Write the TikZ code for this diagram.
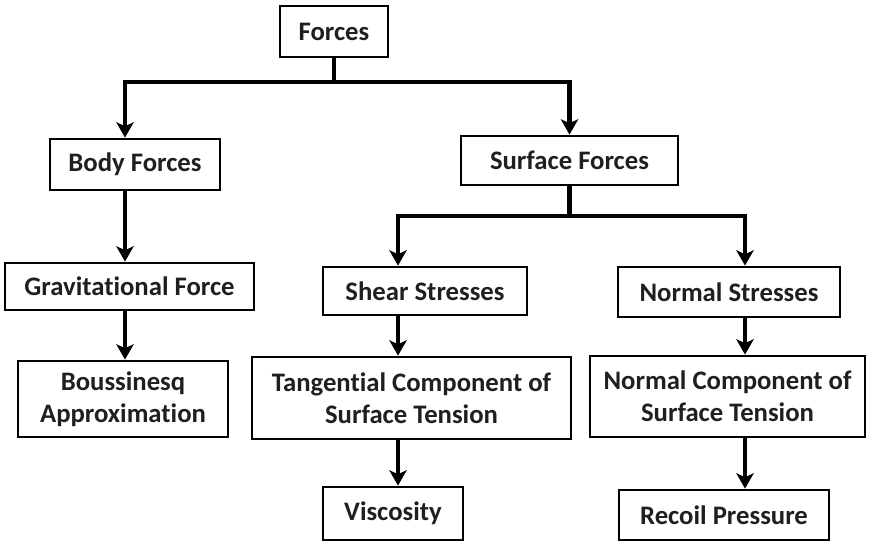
\documentclass[tikz,border=0pt]{standalone}
\usepackage{fontspec}
\setmainfont{Carlito}[Ligatures=NoCommon]
\usetikzlibrary{arrows.meta, calc, positioning}

\begin{document}
\begin{tikzpicture}[
    font=\fontsize{22.8}{27.5}\selectfont\bfseries,
    block/.style={
        draw=black, line width=2.4pt, fill=white,
        align=center, inner sep=2pt, text=black!88
    },
    link/.style={
        line width=3.6pt, black
    },
    arrow/.style={
        -{Stealth[length=4.6mm, width=5.2mm, inset=1.2mm]}, line width=3.6pt, black
    }
]
\useasboundingbox (0,0) rectangle (26.07,-16.41);

% columns of the connectors
\coordinate (colA) at (3.75,0);
\coordinate (colB) at (11.94,0);
\coordinate (colC) at (22.35,0);
\coordinate (split1) at (0,-2.46);
\coordinate (split2) at (0,-6.48);

\node[block, minimum width=3.24cm, minimum height=1.53cm] (forces) at (10.02,-0.945)
    {Forces};

\node[block, minimum width=5.1cm, minimum height=1.53cm] (body) at (4.05,-4.935)
    {Body Forces};
\node[block, minimum width=6.51cm, minimum height=1.47cm] (surface) at (17.085,-4.815)
    {Surface Forces};

\node[block, minimum width=7.47cm, minimum height=1.41cm] (grav) at (3.885,-8.595)
    {Gravitational Force};
\node[block, minimum width=6.12cm, minimum height=1.44cm] (shear) at (12.75,-8.73)
    {Shear Stresses};
\node[block, minimum width=6.66cm, minimum height=1.5cm] (normal) at (21.87,-8.76)
    {Normal Stresses};

\node[block, minimum width=6.3cm, minimum height=2.28cm] (bouss) at (3.69,-11.97)
    {Boussinesq\\Approximation};
\node[block, minimum width=9.57cm, minimum height=2.46cm] (tang) at (12.345,-11.94)
    {Tangential Component of\\Surface Tension};
\node[block, minimum width=8.25cm, minimum height=2.43cm] (ncomp) at (21.825,-11.895)
    {Normal Component of\\Surface Tension};

\node[block, minimum width=4.2cm, minimum height=1.59cm] (visc) at (11.79,-15.405)
    {Viscosity};
\node[block, minimum width=6.3cm, minimum height=1.5cm] (recoil) at (21.72,-15.45)
    {Recoil Pressure};

% forces -> body / surface
\draw[link] (forces.south) -- (forces.south |- split1);
\draw[arrow] (forces.south |- split1) -| (body.north -| colA);
\draw[arrow] (forces.south |- split1) -| (surface.north);

% body branch
\draw[arrow] (body.south -| colA) -- (grav.north -| colA);
\draw[arrow] (grav.south -| colA) -- (bouss.north -| colA);

% surface -> shear / normal
\draw[link] (surface.south) -- (surface.south |- split2);
\draw[arrow] (surface.south |- split2) -| (shear.north -| colB);
\draw[arrow] (surface.south |- split2) -| (normal.north -| colC);

\draw[arrow] (shear.south -| colB) -- (tang.north -| colB);
\draw[arrow] (tang.south -| colB) -- (visc.north -| colB);
\draw[arrow] (normal.south -| colC) -- (ncomp.north -| colC);
\draw[arrow] (ncomp.south -| colC) -- (recoil.north -| colC);
\end{tikzpicture}
\end{document}
